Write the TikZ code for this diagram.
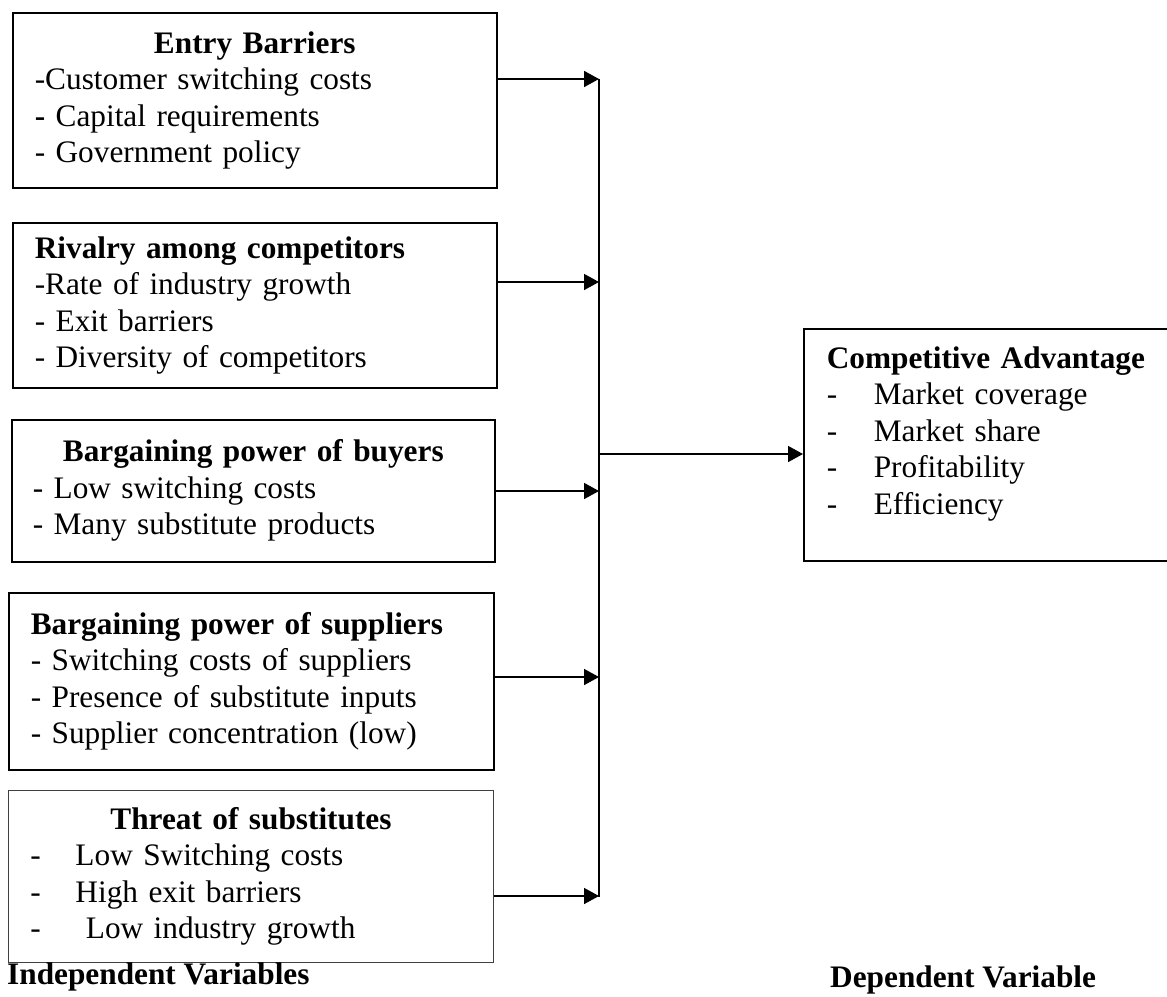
\documentclass[tikz,border=0pt]{standalone}
\usepackage{fontspec}
\setmainfont{Liberation Serif}
\usetikzlibrary{arrows.meta}
\newcommand{\boxfont}{\fontsize{31.3}{36.5}\selectfont}
\newcommand{\tabdash}[1]{\makebox[#1][l]{-}}

\begin{document}
\begin{tikzpicture}[x=1pt, y=-1pt]
                \tikzstyle{factor} = [draw, line width=1.6pt, anchor=north west, align=left, inner xsep=22pt, inner ysep=0pt, text width=440pt, font=\boxfont]
                \tikzstyle{flow} = [line width=1.6pt, -{Triangle[length=15pt, width=16pt]}]
                \tikzstyle{bus} = [line width=1.6pt]
                \tikzstyle{caption} = [anchor=base west, inner sep=0pt, font=\boxfont\bfseries]
                \useasboundingbox (0, 0) rectangle (1167, 996);
                \clip (0, 0) rectangle (1167, 996);
                \node[factor, minimum height=175pt] (entry) at (12, 12) {\makebox[440pt]{\textbf{Entry Barriers}}\\-Customer switching costs\\\textbf{-} Capital requirements\\- Government policy};
                \node[factor, minimum height=165pt] (rivalry) at (12, 222) {\textbf{Rivalry among competitors}\\-Rate of industry growth\\- Exit barriers\\- Diversity of competitors};
                \node[factor, minimum height=142pt, inner xsep=21pt, text width=441pt] (buyers) at (11, 419) {\makebox[441pt]{\textbf{Bargaining power of buyers}}\\- Low switching costs\\- Many substitute products};
                \node[factor, minimum height=177pt, text width=441pt] (suppliers) at (8, 592) {\textbf{Bargaining power of suppliers}\\- Switching costs of suppliers\\- Presence of substitute inputs\\- Supplier concentration (low)};
                \node[factor, minimum height=172pt, text width=441pt, line width=1pt, draw=black!75] (substitutes) at (8, 790) {\makebox[441pt]{\textbf{Threat of substitutes}}\\\tabdash{45pt}Low Switching costs\\\tabdash{45pt}High exit barriers\\\tabdash{45pt} Low industry growth};
                \node[factor, minimum height=232pt, inner xsep=23pt, text width=400pt] (advantage) at (803, 328) {\textbf{Competitive Advantage}\\\tabdash{47pt}Market coverage\\\tabdash{47pt}Market share\\\tabdash{47pt}Profitability\\\tabdash{47pt}Efficiency\rule[-29pt]{0pt}{29pt}};
                \coordinate (in1) at (599, 79);
                \coordinate (in2) at (599, 282);
                \coordinate (in3) at (599, 491);
                \coordinate (in4) at (599, 677);
                \coordinate (in5) at (599, 896);
                \coordinate (busend) at (599, 897);
                \coordinate (hub) at (599, 454);
                \draw[bus] (in1) -- (busend);
                \draw[flow] (entry.east |- in1) -- (in1);
                \draw[flow] (rivalry.east |- in2) -- (in2);
                \draw[flow] (buyers.east |- in3) -- (in3);
                \draw[flow] (suppliers.east |- in4) -- (in4);
                \draw[flow] (substitutes.east |- in5) -- (in5);
                \draw[flow] (hub) -- (advantage.west |- hub);
                \node[caption] (independent) at (7, 984) {Independent Variables};
                \node[caption] (dependent) at (830, 987) {Dependent Variable};
            \end{tikzpicture}
\end{document}
